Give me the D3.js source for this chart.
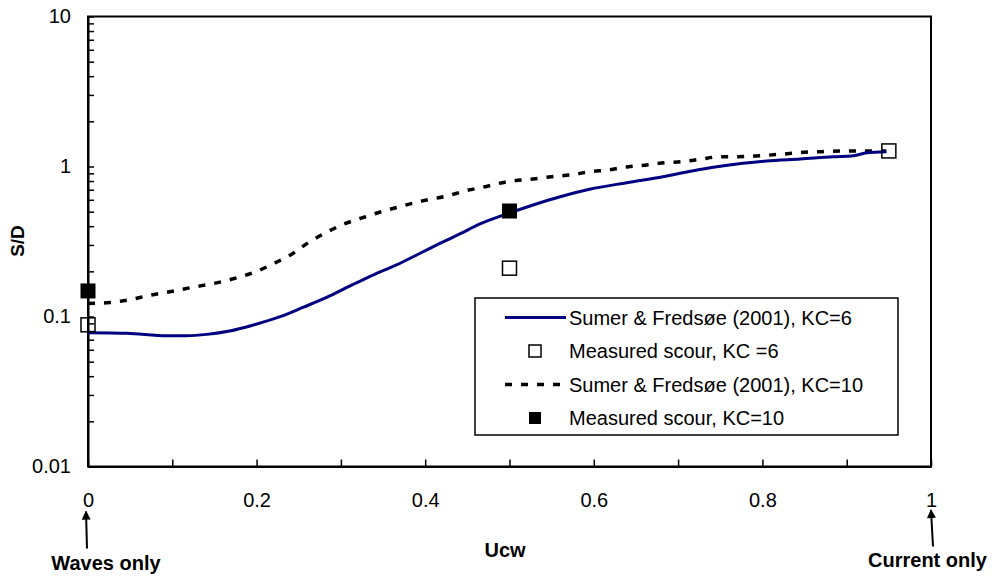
<!DOCTYPE html>
<html>
<head>
<meta charset="utf-8">
<script src="https://cdn.jsdelivr.net/npm/d3@7"></script>
<style>
  html, body { margin: 0; padding: 0; background: #fff; }
  svg { display: block; font-family: "Liberation Sans", Arial, sans-serif; }
</style>
</head>
<body>
<svg id="chart" width="992" height="578"></svg>
<script>
// ---- data ----
const kc6CurveU = [0, 0.046, 0.094, 0.117, 0.141, 0.168, 0.196, 0.228, 0.255, 0.283, 0.311, 0.338, 0.366, 0.394, 0.418, 0.441, 0.465, 0.501, 0.528, 0.560, 0.595, 0.639, 0.682, 0.718, 0.746, 0.777, 0.805, 0.845, 0.884, 0.908, 0.924, 0.947];
const kc6CurveS = [0.078, 0.0773, 0.0745, 0.0745, 0.076, 0.080, 0.0877, 0.0997, 0.115, 0.134, 0.160, 0.189, 0.221, 0.264, 0.308, 0.355, 0.414, 0.492, 0.554, 0.629, 0.705, 0.780, 0.855, 0.938, 0.997, 1.05, 1.088, 1.122, 1.162, 1.18, 1.236, 1.255];
const kc10CurveU = [0, 0.026, 0.049, 0.072, 0.097, 0.125, 0.149, 0.170, 0.196, 0.222, 0.242, 0.261, 0.283, 0.303, 0.325, 0.344, 0.370, 0.398, 0.426, 0.447, 0.471, 0.497, 0.528, 0.550, 0.572, 0.595, 0.617, 0.641, 0.663, 0.684, 0.704, 0.726, 0.750, 0.771, 0.797, 0.825, 0.849, 0.870, 0.898, 0.926, 0.947];
const kc10CurveS = [0.122, 0.124, 0.129, 0.138, 0.146, 0.157, 0.166, 0.177, 0.196, 0.228, 0.261, 0.310, 0.364, 0.412, 0.454, 0.492, 0.540, 0.592, 0.636, 0.687, 0.733, 0.792, 0.826, 0.855, 0.878, 0.923, 0.948, 0.997, 1.023, 1.06, 1.076, 1.117, 1.162, 1.162, 1.180, 1.211, 1.244, 1.255, 1.269, 1.269, 1.269];
const kc6MeasU = [0, 0.5, 0.95];
const kc6MeasS = [0.088, 0.21, 1.27];
const kc10MeasU = [0, 0.5];
const kc10MeasS = [0.148, 0.505];
const xTickValues = [0, 0.1, 0.2, 0.3, 0.4, 0.5, 0.6, 0.7, 0.8, 0.9, 1];
const xTickLabels = ["0", "", "0.2", "", "0.4", "", "0.6", "", "0.8", "", "1"];
const yTickLabels = ["0.01", "0.1", "1", "10"];
const legendLabels = ["Sumer & Fredsøe (2001), KC=6", "Measured scour, KC =6", "Sumer & Fredsøe (2001), KC=10", "Measured scour, KC=10"];

// ---- layout ----
const svg = d3.select("#chart");
const L = 88, R = 931, T = 16.5, B = 466.5;
const x = d3.scaleLinear().domain([0, 1]).range([L, R]);
const y = d3.scaleLog().domain([0.01, 10]).range([B, T]);

const zip = (u, s) => u.map((v, i) => ({u: v, s: s[i]}));

// frame
svg.append("rect").attr("x", L).attr("y", T).attr("width", R - L).attr("height", B - T)
  .attr("fill", "none").attr("stroke", "#000").attr("stroke-width", 2);

// x axis ticks (inward)
const xAxis = d3.axisBottom(x).tickValues(xTickValues).tickSizeInner(-7).tickSizeOuter(0)
  .tickPadding(26).tickFormat((d, i) => xTickLabels[i]);
const gx = svg.append("g").attr("transform", `translate(0,${B})`).call(xAxis);
gx.select(".domain").attr("stroke-width", 2);
gx.selectAll(".tick line").attr("stroke-width", 1.5);
gx.selectAll("text").attr("font-size", 20).attr("fill", "#000").attr("font-family", "Liberation Sans, Arial, sans-serif");

// y axis ticks (inward), major + minor
const yTicks = [];
[0.01, 0.1, 1].forEach(dec => { for (let k = 1; k <= 9; k++) yTicks.push(+(dec * k).toPrecision(3)); });
yTicks.push(10);
const yAxis = d3.axisLeft(y).tickValues(yTicks).tickSizeInner(-6).tickSizeOuter(0).tickPadding(17)
  .tickFormat(d => { const idx = [0.01, 0.1, 1, 10].indexOf(d); return idx >= 0 ? yTickLabels[idx] : ""; });
const gy = svg.append("g").attr("transform", `translate(${L},0)`).call(yAxis);
gy.select(".domain").attr("stroke-width", 2);
gy.selectAll(".tick line").attr("stroke-width", 1.5);
gy.selectAll("text").attr("font-size", 20).attr("fill", "#000").attr("font-family", "Liberation Sans, Arial, sans-serif");

// lines
const line = d3.line().x(d => x(d.u)).y(d => y(d.s)).curve(d3.curveMonotoneX);
svg.append("path").datum(zip(kc10CurveU, kc10CurveS)).attr("d", line)
  .attr("fill", "none").attr("stroke", "#000").attr("stroke-width", 3.5).attr("stroke-dasharray", "7,9");
svg.append("path").datum(zip(kc6CurveU, kc6CurveS)).attr("d", line)
  .attr("fill", "none").attr("stroke", "#000080").attr("stroke-width", 3);

// markers
const ms = 14;
svg.selectAll(".m6").data(zip(kc6MeasU, kc6MeasS)).enter().append("rect")
  .attr("x", d => x(d.u) - ms / 2).attr("y", d => y(d.s) - ms / 2).attr("width", ms).attr("height", ms)
  .attr("fill", "none").attr("stroke", "#000").attr("stroke-width", 1.5);
svg.selectAll(".m10").data(zip(kc10MeasU, kc10MeasS)).enter().append("rect")
  .attr("x", d => x(d.u) - ms / 2).attr("y", d => y(d.s) - ms / 2).attr("width", ms).attr("height", ms)
  .attr("fill", "#000").attr("stroke", "#000").attr("stroke-width", 1);

// legend
const lg = svg.append("g");
lg.append("rect").attr("x", 475).attr("y", 298).attr("width", 423).attr("height", 137)
  .attr("fill", "#fff").attr("stroke", "#000").attr("stroke-width", 1.5);
const rowY = [317.5, 351, 384.5, 418];
const sx0 = 505, sx1 = 566, scx = 535, tx = 569;
lg.append("line").attr("x1", sx0).attr("x2", sx1).attr("y1", rowY[0]).attr("y2", rowY[0])
  .attr("stroke", "#000080").attr("stroke-width", 3);
lg.append("rect").attr("x", scx - 6).attr("y", rowY[1] - 6).attr("width", 12).attr("height", 12)
  .attr("fill", "#fff").attr("stroke", "#000").attr("stroke-width", 1.5);
lg.append("line").attr("x1", sx0).attr("x2", sx1).attr("y1", rowY[2]).attr("y2", rowY[2])
  .attr("stroke", "#000").attr("stroke-width", 3.5).attr("stroke-dasharray", "7,9");
lg.append("rect").attr("x", scx - 6).attr("y", rowY[3] - 6).attr("width", 12).attr("height", 12)
  .attr("fill", "#000");
legendLabels.forEach((t, i) => {
  lg.append("text").attr("x", tx).attr("y", rowY[i]).attr("dy", "0.35em")
    .attr("font-size", 20).attr("fill", "#000").text(t);
});

// axis titles
svg.append("text").attr("x", 505).attr("y", 550).attr("dy", "0.35em").attr("text-anchor", "middle")
  .attr("font-size", 20).attr("font-weight", "bold").text("Ucw");
svg.append("text").attr("transform", "translate(17.5,241) rotate(-90)").attr("dy", "0.35em")
  .attr("text-anchor", "middle").attr("font-size", 19).attr("font-weight", "bold").text("S/D");

// annotations with arrows
svg.append("defs").append("marker").attr("id", "ah").attr("viewBox", "0 0 10 10")
  .attr("refX", 9).attr("refY", 5).attr("markerWidth", 10).attr("markerHeight", 9)
  .attr("markerUnits", "userSpaceOnUse").attr("orient", "auto")
  .append("path").attr("d", "M0,0 L10,5 L0,10 Z").attr("fill", "#000");
svg.append("line").attr("x1", 87).attr("y1", 548.5).attr("x2", 86).attr("y2", 511.5)
  .attr("stroke", "#000").attr("stroke-width", 2).attr("marker-end", "url(#ah)");
svg.append("line").attr("x1", 933).attr("y1", 546.5).attr("x2", 931).attr("y2", 510)
  .attr("stroke", "#000").attr("stroke-width", 2).attr("marker-end", "url(#ah)");
svg.append("text").attr("x", 106).attr("y", 563).attr("dy", "0.35em").attr("text-anchor", "middle")
  .attr("font-size", 20).attr("font-weight", "bold").text("Waves only");
svg.append("text").attr("x", 927.5).attr("y", 560).attr("dy", "0.35em").attr("text-anchor", "middle")
  .attr("font-size", 20).attr("font-weight", "bold").text("Current only");
</script>
</body>
</html>
